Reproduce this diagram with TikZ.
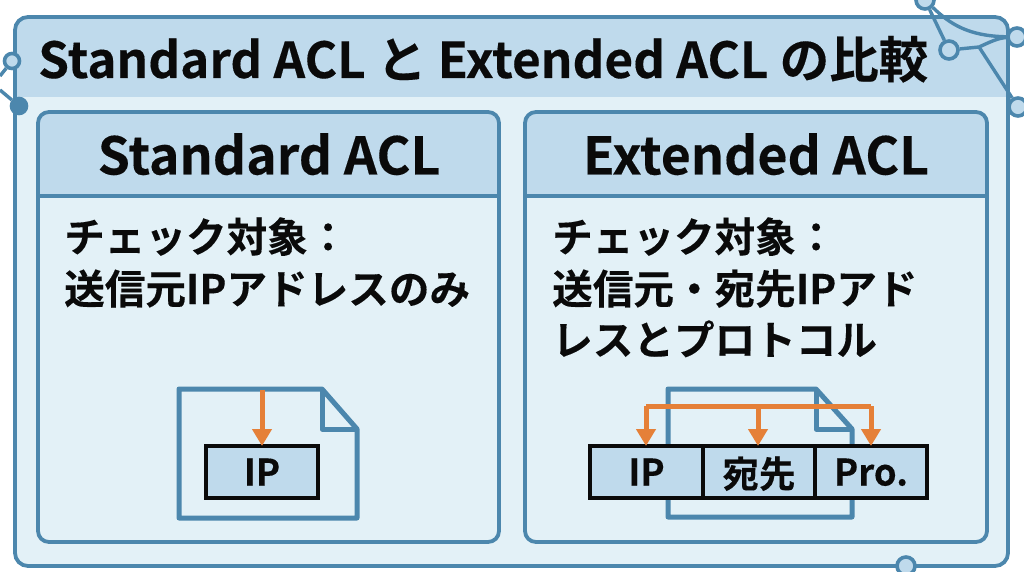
\documentclass[tikz,border=0pt]{standalone}
\usepackage{fontspec}
\setmainfont{Noto Sans CJK JP}[BoldFont={Noto Sans CJK JP Bold},BoldFeatures={FakeBold=0.25}]
\usetikzlibrary{arrows.meta}
\definecolor{frameblue}{HTML}{4C87AD}
\definecolor{bandblue}{HTML}{BFDAEC}
\definecolor{bodyblue}{HTML}{E3F1F7}
\definecolor{arrorange}{HTML}{E58038}
\definecolor{inkblack}{HTML}{0A0A0A}
\tikzset{
 x=1pt,y=-1pt,
 frameline/.style={draw=frameblue,line width=3.8pt},
 docline/.style={draw=frameblue,line width=5pt,line join=round},
 cell/.style={draw=inkblack,line width=3.2pt,fill=bandblue,minimum height=52pt,outer sep=0pt,inner sep=0pt,text depth=0pt,font=\fontsize{36.5}{36.5}\selectfont\bfseries,text=inkblack,anchor=north west},
 arr/.style={draw=arrorange,line width=5pt,-{Triangle[length=17pt,width=19pt]}},
 arrplain/.style={draw=arrorange,line width=5pt,line join=round},
 titletext/.style={anchor=base west,inner sep=0pt,text=inkblack,font=\fontsize{49.5}{49.5}\selectfont\bfseries},
 headtext/.style={anchor=base,inner sep=0pt,text=inkblack,font=\fontsize{51.8}{51.8}\selectfont\bfseries},
 bodytext/.style={anchor=base west,inner sep=0pt,text=inkblack,font=\fontsize{40.6}{40.6}\selectfont\bfseries},
 netnode/.style={circle,draw=frameblue,line width=3.6pt,fill=bandblue,inner sep=0pt},
 netline/.style={draw=frameblue,line width=3.4pt},
}
\begin{document}
\begin{tikzpicture}
\useasboundingbox (0,0) rectangle (1024,572);
\fill[white] (0,0) rectangle (1024,572);
% outer frame
\fill[bodyblue,rounded corners=13pt] (15,17) rectangle (1008,566);
\begin{scope}
\clip[rounded corners=13pt] (15,17) rectangle (1008,566);
\fill[bandblue] (15,17) rectangle (1008,97);
\end{scope}
\draw[frameline,rounded corners=13pt] (15,17) rectangle (1008,566);
% network
\node[netnode,minimum size=18pt] (nA) at (925,0) {};
\node[netnode,minimum size=18pt] (nB) at (949,50) {};
\node[netnode,minimum size=18pt] (nC) at (1017,37) {};
\node[netnode,minimum size=18pt] (nD) at (1018,107) {};
\coordinate (nJ) at (979,47);
\draw[netline] (nA) -- (nB);
\draw[netline] (nA) .. controls (950,24) and (968,36) .. (nC);
\draw[netline] (nB) -- (nJ) .. controls (990,42) and (998,38) .. (nC);
\draw[netline] (nJ) -- (nD);
\node[netnode,minimum size=15pt] (nE) at (12,61) {};
\node[netnode,fill=frameblue,minimum size=15pt] (nF) at (19,106) {};
\coordinate (eL) at (0,76);
\coordinate (fL) at (0,90);
\draw[netline] (nE) -- (eL);
\draw[netline] (nF) -- (fL);
\node[netnode,minimum size=18pt] (nG) at (906,566) {};
% title
\node[titletext] (title) at (38,78) {Standard ACL と Extended ACL の比較};
% left panel
\begin{scope}
\clip[rounded corners=11pt] (38,112) rectangle (499,542);
\fill[bandblue] (38,112) rectangle (499,196);
\end{scope}
\draw[frameline,rounded corners=11pt] (38,112) rectangle (499,542);
\draw[frameline] (38,196) -- (499,196);
\node[headtext] (lhead) at (269,174.5) {Standard ACL};
\node[bodytext] (lb1) at (64,252) {チェック対象：};
\node[bodytext] (lb2) at (64,304) {送信元IPアドレスのみ};
% right panel
\begin{scope}
\clip[rounded corners=11pt] (525,112) rectangle (987,542);
\fill[bandblue] (525,112) rectangle (987,196);
\end{scope}
\draw[frameline,rounded corners=11pt] (525,112) rectangle (987,542);
\draw[frameline] (525,196) -- (987,196);
\node[headtext] (rhead) at (756,174.5) {Extended ACL};
\node[bodytext] (rb1) at (552,252) {チェック対象：};
\node[bodytext] (rb2) at (552,304) {送信元・宛先IPアド};
\node[bodytext] (rb3) at (552,355) {レスとプロトコル};
% left document
\draw[docline] (179,518) -- (179,389) -- (322,389) -- (357,429) -- (357,518) -- cycle;
\draw[docline] (322,389) -- (322,429) -- (357,429);
\node[cell,minimum width=112pt] (lip) at (206,446) {IP};
\coordinate (ltop) at (262,390);
\draw[arr] (ltop) -- (lip.north);
% right document
\draw[docline] (668,517) -- (668,389) -- (816,389) -- (852,429) -- (852,517) -- cycle;
\draw[docline] (816,389) -- (816,429) -- (852,429);
\node[cell,minimum width=113pt] (rip) at (590,446) {IP};
\node[cell,minimum width=112pt] (rdst) at (703,446) {宛先};
\node[cell,minimum width=112pt] (rpro) at (815,446) {Pro.};
\coordinate (busL) at (646,406);
\coordinate (busR) at (871,406);
\coordinate (busM) at (758,406);
\draw[arr] (busL) -- (busL |- rip.north);
\draw[arr] (busM) -- (busM |- rdst.north);
\draw[arr] (busR) -- (busR |- rpro.north);
\draw[arrplain] (busL) -- (busR);
\end{tikzpicture}
\end{document}
